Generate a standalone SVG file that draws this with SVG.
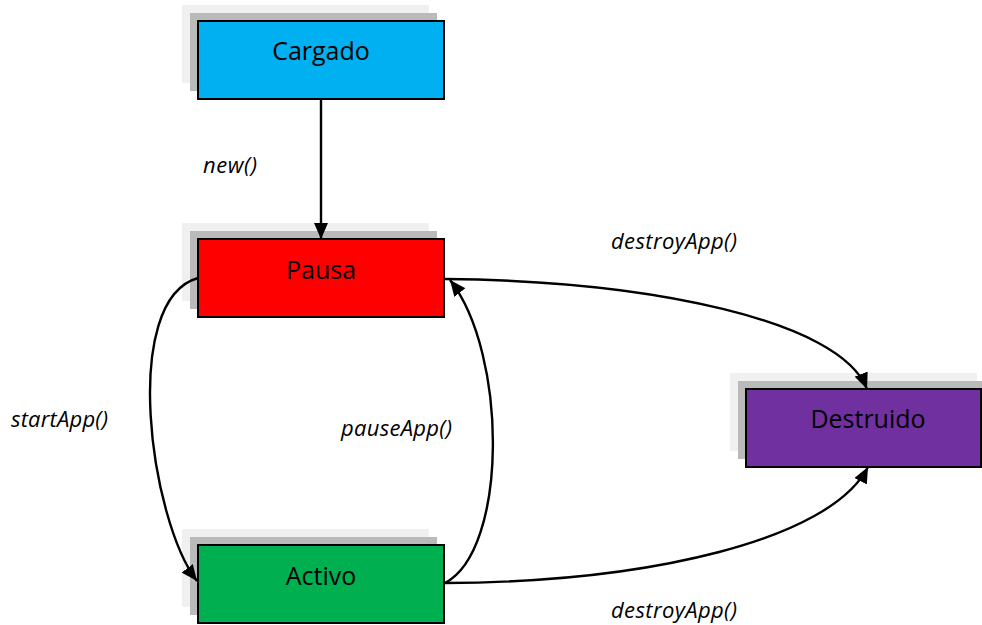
<svg xmlns="http://www.w3.org/2000/svg" width="982" height="625" viewBox="0 0 982 625">
  <defs>
    <marker id="arrow" viewBox="0 0 16 14" refX="16" refY="7" markerWidth="16" markerHeight="14" markerUnits="userSpaceOnUse" orient="auto">
      <path d="M0,0 L16,7 L0,14 Z" fill="#000"/>
    </marker>
  </defs>
  <style>
    .shade1 { fill: #f0f0f0; }
    .shade2 { fill: #bababa; }
    .box { stroke: #000; stroke-width: 2; }
    .name { font-family: "Open Sans", "Liberation Sans", sans-serif; font-size: 25px; fill: #000; text-anchor: middle; }
    .label { font-family: "Open Sans", "Liberation Sans", sans-serif; font-size: 22px; font-style: italic; fill: #000; }
    .edge { fill: none; stroke: #000; stroke-width: 2.4; marker-end: url(#arrow); }
  </style>
  <rect width="982" height="625" fill="#fff"/>

  <g id="cargado">
    <rect class="shade1" x="182" y="5" width="247" height="78"/>
    <rect class="shade2" x="190" y="13" width="247" height="78"/>
    <rect class="box" x="198" y="21" width="246" height="78" fill="#00b0f0"/>
    <text class="name" x="321" y="60">Cargado</text>
  </g>

  <g id="pausa">
    <rect class="shade1" x="182" y="223" width="247" height="78"/>
    <rect class="shade2" x="190" y="231" width="247" height="78"/>
    <rect class="box" x="198" y="239" width="246" height="78" fill="#ff0000"/>
    <text class="name" x="321" y="279">Pausa</text>
  </g>

  <g id="activo">
    <rect class="shade1" x="182" y="529" width="247" height="78"/>
    <rect class="shade2" x="190" y="537" width="247" height="78"/>
    <rect class="box" x="198" y="545" width="246" height="78" fill="#00b050"/>
    <text class="name" x="321" y="585">Activo</text>
  </g>

  <g id="destruido">
    <rect class="shade1" x="730" y="373" width="247" height="78"/>
    <rect class="shade2" x="738" y="381" width="247" height="78"/>
    <rect class="box" x="746" y="389" width="235" height="78" fill="#7030a0"/>
    <text class="name" x="868" y="428">Destruido</text>
  </g>

  <g id="connectors">
    <path class="edge" d="M321,99 L321,239"/>
    <path class="edge" d="M198,278 C120,300 150,520 197,581"/>
    <path class="edge" d="M445,583 C508,550 508,354 450,280"/>
    <path class="edge" d="M445,279 C650,281 840,320 867,389"/>
    <path class="edge" d="M445,583 C650,582 830,540 868,467"/>
  </g>

  <g id="labels">
    <text class="label" x="203" y="173" textLength="54">new()</text>
    <text class="label" x="611" y="249" textLength="126">destroyApp()</text>
    <text class="label" x="11" y="427" textLength="97">startApp()</text>
    <text class="label" x="341" y="436" textLength="111">pauseApp()</text>
    <text class="label" x="611" y="618" textLength="126">destroyApp()</text>
  </g>
</svg>
